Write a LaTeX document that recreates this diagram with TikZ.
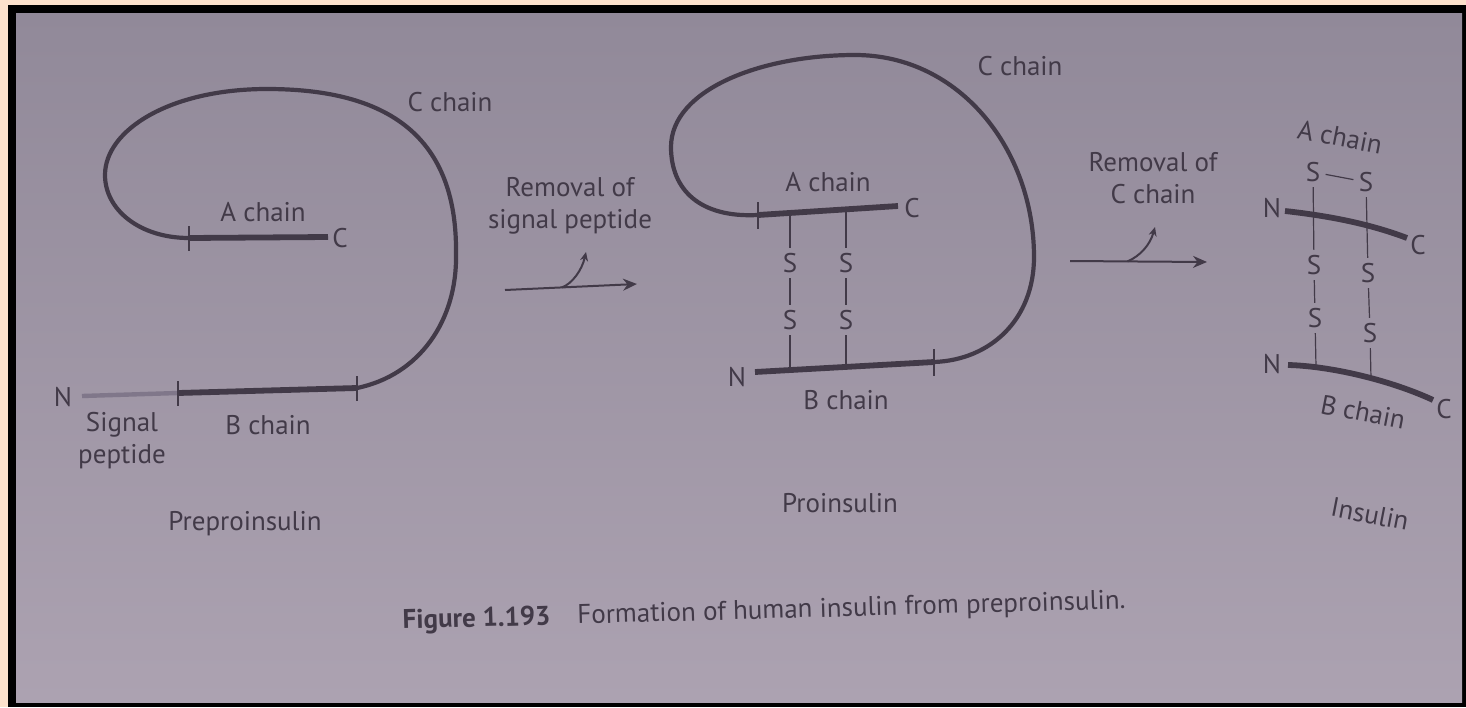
\documentclass[tikz,border=0pt]{standalone}
\usepackage{fontspec}
\setmainfont{PT Sans}
\usetikzlibrary{arrows.meta,calc,positioning}
\definecolor{peach}{HTML}{FCE1CC}
\definecolor{pagetop}{HTML}{918999}
\definecolor{pagebot}{HTML}{ACA2B1}
\definecolor{ink}{HTML}{423A48}
\definecolor{sigink}{HTML}{80778A}
\newcommand{\labfont}{\fontsize{13.5}{16}\selectfont}

\begin{document}
\begin{tikzpicture}[x=0.5pt,y=-0.5pt,>=Stealth,
  chain/.style={line width=2.9pt,ink},
  coil/.style={line width=2.1pt,ink},
  sigline/.style={line width=2.2pt,sigink},
  tickmark/.style={line width=0.7pt,ink},
  bond/.style={line width=0.6pt,ink},
  lab/.style={text=ink,font=\labfont,inner sep=1pt,align=center},
  sulf/.style={text=ink,font=\labfont,inner sep=2.5pt},
  react/.style={line width=1pt,ink,-{Stealth[length=7pt,width=6pt]}},
  side/.style={line width=1pt,ink,-{Stealth[length=4.5pt,width=4pt]}}]
\useasboundingbox (0,0) rectangle (1466,707);
% photo frame and page
\fill[peach] (0,0) rectangle (1466,707);
\fill[black] (8,5) rectangle (1466,707);
\shade[top color=pagetop,bottom color=pagebot] (16,13) rectangle (1462,702);

% ---- preproinsulin
\coordinate (pS) at (82,396);
\coordinate (pB1) at (178,393);
\coordinate (pB2) at (357,388);
\coordinate (pA1) at (189,238);
\coordinate (pA2) at (328,237);
\draw[sigline] (pS) -- (pB1);
\draw[chain] (pB1) -- (pB2);
\draw[coil] (pB2) .. controls (420,375) and (457,320) .. (456,255)
  .. controls (458,130) and (380,89) .. (267,89)
  .. controls (170,89) and (105,130) .. (105,175)
  .. controls (105,210) and (140,238) .. (pA1);
\draw[chain] (pA1) -- (pA2);
\foreach \t in {pB1,pB2,pA1}
  \draw[tickmark] ($(\t)+(0,-12)$) -- ($(\t)+(0,13)$);
\node[lab] (pN) at (63,397) {N};
\node[lab] (pC) at (340,238) {C};
\node[lab] (pAlab) at (263,212) {A chain};
\node[lab] (pClab) at (450,102) {C chain};
\node[lab] (pBlab) at (268,425) {B chain};
\node[lab] (pSig) at (122,441) {Signal\\peptide};
\node[lab] (pName) at (245,524) {Preproinsulin};

% ---- first step
\coordinate (r1s) at (505,290);
\coordinate (r1e) at (637,284);
\coordinate (r1b) at ($(r1s)!0.43!(r1e)$);
\coordinate (r1t) at (586,252);
\draw[react] (r1s) -- (r1e);
\draw[side] (r1b) .. controls (572,284) and (582,270) .. (r1t);
\node[lab] (r1lab) at (570,206) {Removal of\\signal peptide};

% ---- proinsulin
\coordinate (qA1) at (758,215);
\coordinate (qA2) at (898,206);
\coordinate (qB1) at (755,372);
\coordinate (qB2) at (934,362);
\draw[coil] (qA1) .. controls (700,218) and (671,190) .. (671,147)
  .. controls (671,90) and (760,55) .. (855,55)
  .. controls (960,55) and (1034,150) .. (1034,257)
  .. controls (1034,320) and (990,360) .. (qB2);
\draw[chain] (qA1) -- (qA2);
\draw[chain] (qB1) -- (qB2);
\foreach \t in {qA1,qB2}
  \draw[tickmark] ($(\t)+(0,-13)$) -- ($(\t)+(0,14)$);
\coordinate (qa1) at (790,213);
\coordinate (qa2) at (846,210);
\coordinate (qb1) at (790,370);
\coordinate (qb2) at (846,367);
\node[sulf] (qs1) at (790,263) {S};
\node[sulf] (qs2) at (790,320) {S};
\node[sulf] (qs3) at (846,263) {S};
\node[sulf] (qs4) at (846,320) {S};
\draw[bond] (qa1) -- (qs1) -- (qs2) -- (qb1);
\draw[bond] (qa2) -- (qs3) -- (qs4) -- (qb2);
\node[lab] (qN) at (737,377) {N};
\node[lab] (qC) at (912,208) {C};
\node[lab] (qAlab) at (828,182) {A chain};
\node[lab] (qClab) at (1020,66) {C chain};
\node[lab] (qBlab) at (846,400) {B chain};
\node[lab] (qName) at (840,503) {Proinsulin};

% ---- second step
\coordinate (r2s) at (1070,261);
\coordinate (r2e) at (1207,262);
\coordinate (r2b) at ($(r2s)!0.42!(r2e)$);
\coordinate (r2t) at (1155,227);
\draw[react] (r2s) -- (r2e);
\draw[side] (r2b) .. controls (1140,256) and (1150,245) .. (r2t);
\node[lab] (r2lab) at (1153,178) {Removal of\\C chain};

% ---- insulin
\coordinate (iA1) at (1285,211);
\coordinate (iA2) at (1407,238);
\coordinate (iB1) at (1288,365);
\coordinate (iB2) at (1433,400);
\draw[chain] (iA1) .. controls (1330,216) and (1370,224) .. (iA2);
\draw[chain] (iB1) .. controls (1330,366) and (1390,380) .. (iB2);
\node[sulf] (is1) at (1313,172) {S};
\node[sulf] (is2) at (1366,182) {S};
\node[sulf] (is3) at (1314,265) {S};
\node[sulf] (is4) at (1315,318) {S};
\node[sulf] (is5) at (1368,273) {S};
\node[sulf] (is6) at (1370,333) {S};
\coordinate (ib1) at (1316,367);
\coordinate (ib2) at (1371,379);
\draw[bond] (is1) -- (is2);
\draw[bond] (is1) -- (is3) -- (is4) -- (ib1);
\draw[bond] (is2) -- (is5) -- (is6) -- (ib2);
\node[lab] (iN1) at (1272,208) {N};
\node[lab] (iC1) at (1418,245) {C};
\node[lab] (iN2) at (1272,364) {N};
\node[lab] (iC2) at (1444,409) {C};
\node[lab,rotate=-11] (iAlab) at (1340,137) {A chain};
\node[lab,rotate=-11] (iBlab) at (1363,412) {B chain};
\node[lab,rotate=-11] (iName) at (1370,514) {Insulin};

% ---- caption
\node[lab,rotate=1.6] (cap) at (764,612)
  {\textbf{Figure 1.193}\quad Formation of human insulin from preproinsulin.};
\end{tikzpicture}
\end{document}
